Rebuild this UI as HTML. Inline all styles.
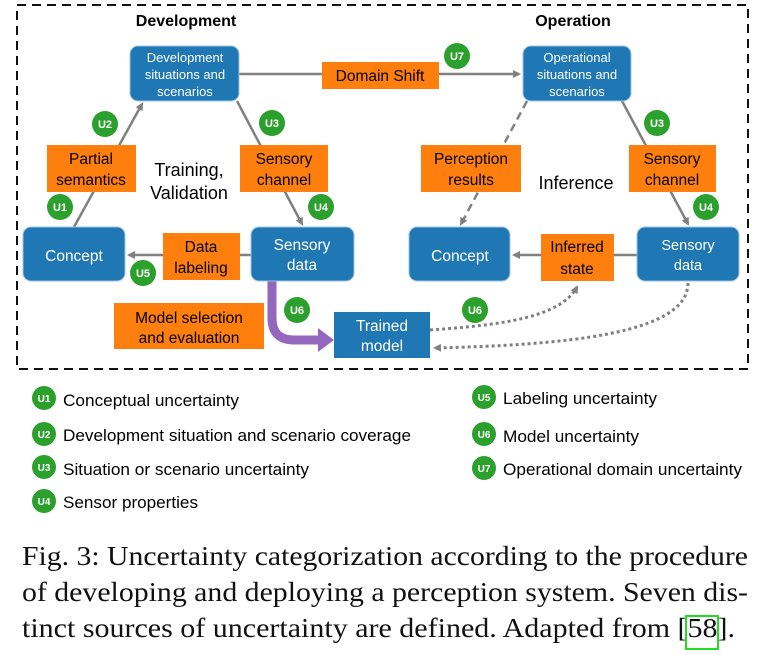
<!DOCTYPE html>
<html><head><meta charset="utf-8"><style>
body{margin:0;background:#fff;width:761px;height:655px;overflow:hidden}
svg{position:absolute;left:0;top:0}
</style></head><body>
<svg width="761" height="655" viewBox="0 0 761 655" font-family="Liberation Sans, sans-serif">
<defs>
<marker id="ah" markerWidth="8" markerHeight="8" refX="6" refY="4" orient="auto" markerUnits="userSpaceOnUse"><path d="M0,0 L8,4 L0,8 z" fill="#808080"/></marker>
</defs>
<rect x="17" y="5" width="731" height="364" fill="none" stroke="#111" stroke-width="2" stroke-dasharray="9,6"/>
<g font-weight="bold" font-size="16" text-anchor="middle" fill="#000">
<text x="186" y="26">Development</text><text x="573" y="26">Operation</text></g>
<g stroke="#808080" stroke-width="2.5" fill="none">
<line x1="239" y1="74" x2="519" y2="74" marker-end="url(#ah)"/>
<line x1="74" y1="227" x2="142" y2="104" marker-end="url(#ah)"/>
<line x1="237" y1="101" x2="302" y2="224" marker-end="url(#ah)"/>
<line x1="251" y1="255" x2="129" y2="255" marker-end="url(#ah)"/>
<line x1="527" y1="101" x2="461" y2="224" stroke-dasharray="8,5" marker-end="url(#ah)"/>
<line x1="622" y1="101" x2="688" y2="224" marker-end="url(#ah)"/>
<line x1="637" y1="255" x2="514" y2="255" marker-end="url(#ah)"/>
<path d="M430,330 C500,325 560,318 577,287" stroke-dasharray="3,3" stroke-width="3" marker-end="url(#ah)"/>
<path d="M688,283 C688,335 560,345 435,348" stroke-dasharray="3,3" stroke-width="3" marker-end="url(#ah)"/>
</g>
<path d="M272,281 L272,318 Q272,340 294,340 L318,340" stroke="#9467bd" stroke-width="9" fill="none"/>
<path d="M318,328 L334,340 L318,352 z" fill="#9467bd"/>
<g fill="#1f77b4" stroke="#9cc3e4" stroke-width="1">
<rect x="130" y="46" width="109" height="55" rx="8"/>
<rect x="523" y="46" width="108" height="55" rx="8"/>
<rect x="23" y="227" width="102" height="54" rx="8"/>
<rect x="251" y="227" width="103" height="54" rx="8"/>
<rect x="409" y="227" width="101" height="54" rx="8"/>
<rect x="637" y="227" width="102" height="54" rx="8"/>
<rect x="334" y="312" width="96" height="46" stroke="none"/>
</g>
<g fill="#fff" text-anchor="middle" font-size="13">
<text x="185" y="62">Development</text><text x="185" y="79">situations and</text><text x="185" y="96">scenarios</text>
<text x="577" y="62">Operational</text><text x="577" y="79">situations and</text><text x="577" y="96">scenarios</text>
</g>
<g fill="#fff" text-anchor="middle" font-size="15.5">
<text x="74" y="261">Concept</text>
<text x="302" y="250">Sensory</text><text x="302" y="270">data</text>
<text x="460" y="261">Concept</text>
<text x="382" y="331">Trained</text><text x="382" y="351">model</text>
</g>
<g fill="#fff" text-anchor="middle" font-size="14.5">
<text x="688" y="250">Sensory</text><text x="688" y="270">data</text></g>
<g fill="#ff7f0e">
<rect x="322" y="62" width="117" height="27"/>
<rect x="47" y="145" width="89" height="47"/>
<rect x="240" y="145" width="88" height="47"/>
<rect x="163" y="233" width="77" height="47"/>
<rect x="114" y="303" width="150" height="46"/>
<rect x="421" y="145" width="100" height="47"/>
<rect x="629" y="145" width="87" height="47"/>
<rect x="541" y="234" width="73" height="47"/>
</g>
<g fill="#000" text-anchor="middle" font-size="15.5">
<text x="380" y="81">Domain Shift</text>
<text x="91" y="164">Partial</text><text x="91" y="185">semantics</text>
<text x="284" y="164">Sensory</text><text x="284" y="185">channel</text>
<text x="201" y="252">Data</text><text x="201" y="273">labeling</text>
<text x="189" y="323">Model selection</text><text x="189" y="343">and evaluation</text>
<text x="471" y="164">Perception</text><text x="471" y="185">results</text>
<text x="672" y="164">Sensory</text><text x="672" y="185">channel</text>
<text x="577" y="252">Inferred</text><text x="577" y="274">state</text>
</g>
<g fill="#000" text-anchor="middle" font-size="18">
<text x="189" y="176">Training,</text><text x="189" y="199">Validation</text>
<text x="576" y="189">Inference</text></g>
<g font-size="11" font-weight="bold" text-anchor="middle" fill="#fff">
<g><circle cx="105" cy="124" r="13" fill="#2ca02c"/><text x="105" y="128">U2</text></g>
<g><circle cx="272" cy="123" r="13" fill="#2ca02c"/><text x="272" y="127">U3</text></g>
<g><circle cx="60" cy="207" r="13" fill="#2ca02c"/><text x="60" y="211">U1</text></g>
<g><circle cx="321" cy="207" r="13" fill="#2ca02c"/><text x="321" y="211">U4</text></g>
<g><circle cx="143" cy="273" r="13" fill="#2ca02c"/><text x="143" y="277">U5</text></g>
<g><circle cx="297" cy="310" r="13" fill="#2ca02c"/><text x="297" y="314">U6</text></g>
<g><circle cx="457" cy="56" r="13" fill="#2ca02c"/><text x="457" y="60">U7</text></g>
<g><circle cx="657" cy="123" r="13" fill="#2ca02c"/><text x="657" y="127">U3</text></g>
<g><circle cx="706" cy="207" r="13" fill="#2ca02c"/><text x="706" y="211">U4</text></g>
<g><circle cx="475" cy="310" r="13" fill="#2ca02c"/><text x="475" y="314">U6</text></g>
<g font-size="10">
<circle cx="44" cy="398" r="12" fill="#2ca02c"/><text x="44" y="402">U1</text>
<circle cx="44" cy="434" r="12" fill="#2ca02c"/><text x="44" y="438">U2</text>
<circle cx="44" cy="467" r="12" fill="#2ca02c"/><text x="44" y="471">U3</text>
<circle cx="44" cy="501" r="12" fill="#2ca02c"/><text x="44" y="505">U4</text>
<circle cx="484" cy="397" r="12" fill="#2ca02c"/><text x="484" y="401">U5</text>
<circle cx="484" cy="434" r="12" fill="#2ca02c"/><text x="484" y="438">U6</text>
<circle cx="484" cy="468" r="12" fill="#2ca02c"/><text x="484" y="472">U7</text>
</g></g>
<g font-size="17" fill="#000">
<text x="63" y="406" textLength="176" lengthAdjust="spacingAndGlyphs">Conceptual uncertainty</text>
<text x="63" y="441" textLength="348" lengthAdjust="spacingAndGlyphs">Development situation and scenario coverage</text>
<text x="63" y="475" textLength="246" lengthAdjust="spacingAndGlyphs">Situation or scenario uncertainty</text>
<text x="63" y="508" textLength="135" lengthAdjust="spacingAndGlyphs">Sensor properties</text>
<text x="503" y="404" textLength="154" lengthAdjust="spacingAndGlyphs">Labeling uncertainty</text>
<text x="503" y="442" textLength="136" lengthAdjust="spacingAndGlyphs">Model uncertainty</text>
<text x="503" y="475" textLength="239" lengthAdjust="spacingAndGlyphs">Operational domain uncertainty</text>
</g>
<g font-family="Liberation Serif, serif" font-size="27" fill="#111">
<text x="22" y="565" textLength="726" lengthAdjust="spacingAndGlyphs">Fig. 3: Uncertainty categorization according to the procedure</text>
<text x="22" y="601" textLength="726" lengthAdjust="spacingAndGlyphs">of developing and deploying a perception system. Seven dis-</text>
<text x="22" y="637" textLength="713" lengthAdjust="spacingAndGlyphs">tinct sources of uncertainty are defined. Adapted from [58].</text>
</g>
<rect x="686" y="616" width="32" height="33" fill="none" stroke="#22dd22" stroke-width="2"/>
</svg>
</body></html>
